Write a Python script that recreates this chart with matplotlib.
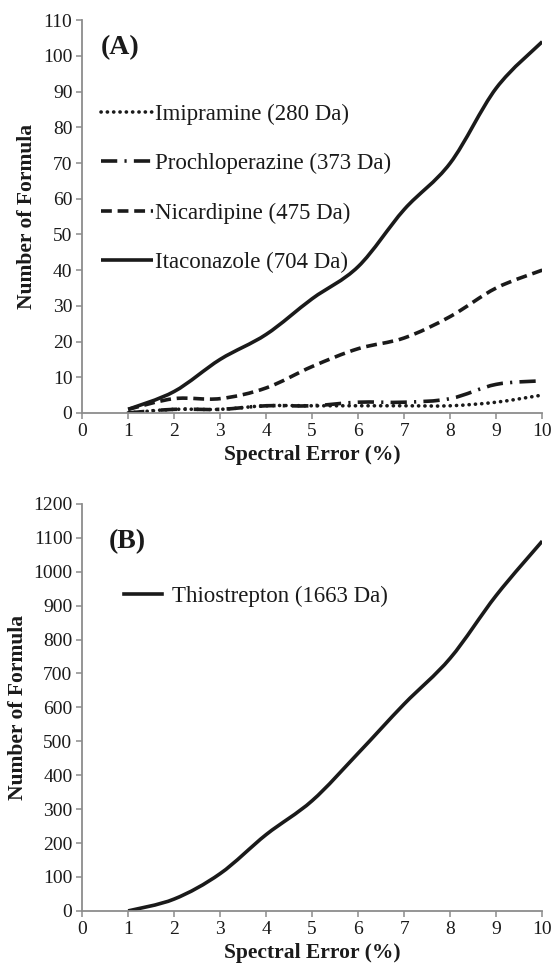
import matplotlib
matplotlib.use("Agg")
import matplotlib.pyplot as plt
from matplotlib.path import Path
from matplotlib.patches import PathPatch
from matplotlib.lines import Line2D

plt.rcParams['font.family'] = ['Liberation Serif', 'DejaVu Serif']

# spectral error (%)
x = [1, 2, 3, 4, 5, 6, 7, 8, 9, 10]

# panel A - number of formula
imipramine = [0, 1, 1, 2, 2, 2, 2, 2, 3, 5]
prochloperazine = [0, 1, 1, 2, 2, 3, 3, 4, 8, 9]
nicardipine = [1, 4, 4, 7, 13, 18, 21, 27, 35, 40]
itaconazole = [1, 6, 15, 22, 32, 41, 57, 70, 91, 104]

# panel B
thiostrepton = [0, 35, 110, 225, 325, 465, 610, 745, 930, 1090]

labels_a = ["Imipramine (280 Da)", "Prochloperazine (373 Da)",
            "Nicardipine (475 Da)", "Itaconazole (704 Da)"]
label_b = "Thiostrepton (1663 Da)"

styles = [(0, (0.05, 1.7)), (0, (4.5, 2.0, 0.6, 2.0)), (0, (3, 1.6)), '-']
caps = ['round', 'butt', 'butt', 'butt']

GRAY = '#8c8c8c'
INK = '#1a1a1a'
LW = 2.6


def smooth_path(xs, ys):
    # excel-like smoothed line drawn as cubic bezier segments
    pts = list(zip(xs, ys))
    verts = [pts[0]]
    codes = [Path.MOVETO]
    n = len(pts)
    for i in range(n - 1):
        p0 = pts[max(i - 1, 0)]
        p1 = pts[i]
        p2 = pts[i + 1]
        p3 = pts[min(i + 2, n - 1)]
        c1 = (p1[0] + (p2[0] - p0[0]) / 6, p1[1] + (p2[1] - p0[1]) / 6)
        c2 = (p2[0] - (p3[0] - p1[0]) / 6, p2[1] - (p3[1] - p1[1]) / 6)
        verts += [c1, c2, p2]
        codes += [Path.CURVE4] * 3
    return Path(verts, codes)


def style_axes(ax, ymax, ystep):
    ax.set_xlim(0, 10)
    ax.set_ylim(0, ymax)
    ax.set_xticks(range(0, 11))
    ax.set_yticks(range(0, ymax + 1, ystep))
    for s in ['top', 'right']:
        ax.spines[s].set_visible(False)
    for s in ['left', 'bottom']:
        ax.spines[s].set_color(GRAY)
        ax.spines[s].set_linewidth(1.3)
    ax.tick_params(direction='out', length=4, width=1.1, color=GRAY,
                   labelsize=14, labelcolor=INK, pad=3)
    ax.set_xlabel("Spectral Error (%)", fontsize=15.5, fontweight='bold',
                  color=INK, labelpad=4)
    ax.set_ylabel("Number of Formula", fontsize=15.5, fontweight='bold',
                  color=INK, labelpad=4)


fig = plt.figure(figsize=(5.55, 9.67), dpi=100)

axA = fig.add_axes([0.148, 0.573, 0.829, 0.406])
style_axes(axA, 110, 10)
handles = []
for ys, ls, cap, lab in zip([imipramine, prochloperazine, nicardipine, itaconazole],
                            styles, caps, labels_a):
    p = PathPatch(smooth_path(x, ys), fill=False, edgecolor=INK, lw=LW,
                  linestyle=ls, capstyle=cap, joinstyle='round')
    axA.add_patch(p)
    handles.append(Line2D([], [], color=INK, lw=LW, linestyle=ls,
                          solid_capstyle='butt', dash_capstyle=cap))
axA.legend(handles, labels_a, loc='upper left', bbox_to_anchor=(0.02, 0.81),
           frameon=False, fontsize=16.5, handlelength=2.27, handletextpad=0.09,
           labelspacing=1.22, borderaxespad=0, labelcolor=INK)
axA.text(0.082, 0.931, "(A)", transform=axA.transAxes, fontsize=20,
         fontweight='bold', ha='center', va='center', color=INK)

axB = fig.add_axes([0.148, 0.058, 0.829, 0.421])
style_axes(axB, 1200, 100)
axB.add_patch(PathPatch(smooth_path(x, thiostrepton), fill=False,
                        edgecolor=INK, lw=LW))
axB.legend([Line2D([], [], color=INK, lw=LW)], [label_b], loc='upper left',
           bbox_to_anchor=(0.07, 0.822), frameon=False, fontsize=16.5,
           handlelength=1.66, handletextpad=0.44, borderaxespad=0,
           labelcolor=INK)
axB.text(0.099, 0.907, "(B)", transform=axB.transAxes, fontsize=20,
         fontweight='bold', ha='center', va='center', color=INK)

fig.savefig("out.png", dpi=100)
